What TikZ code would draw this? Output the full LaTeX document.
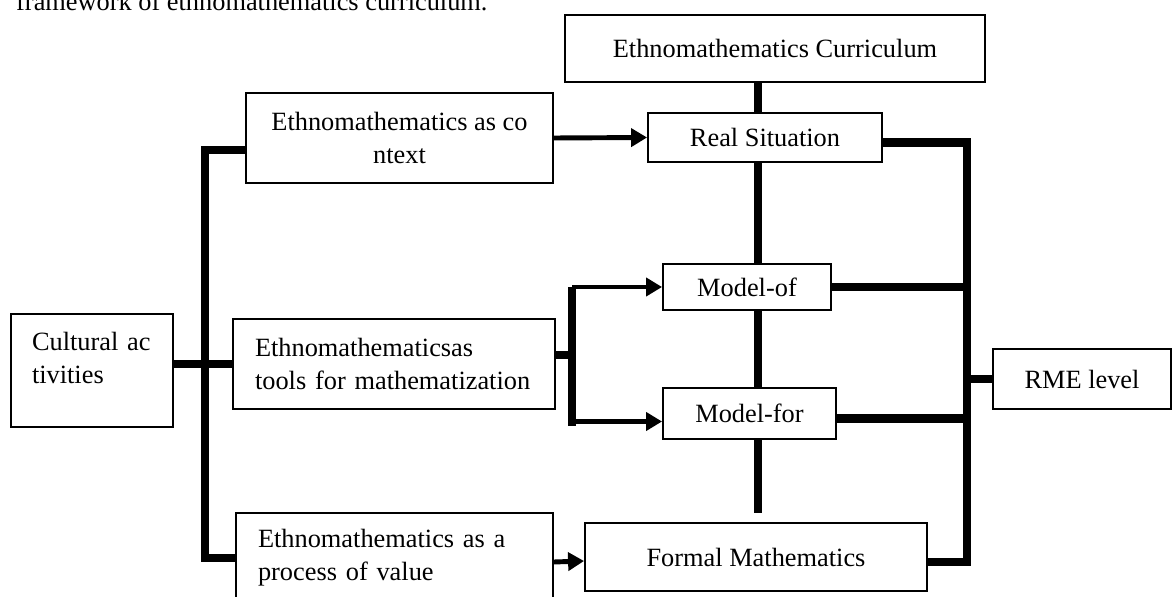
\documentclass[tikz,border=0pt]{standalone}
\usepackage{fontspec}
\setmainfont{Liberation Serif}
\usetikzlibrary{arrows.meta,calc}

\begin{document}
\begin{tikzpicture}[x=0.02cm, y=-0.02cm,
    txt/.style={font=\fontsize{15}{18.7}\selectfont},
    box/.style={txt, draw, line width=1.1pt, inner sep=0pt},
    bar/.style={line width=4.6pt},
    link/.style={line width=2.8pt, -{Triangle[length=0.32cm,width=0.36cm]}}]
  \useasboundingbox (0,0) rectangle (1173,597);

  \node[txt, anchor=base west] (cap) at (10,11) {framework of ethnomathematics curriculum.};

  % middle column
  \node[box, minimum width=8.4cm, minimum height=1.34cm] (curr) at (775,48.5) {Ethnomathematics Curriculum};
  \node[box, minimum width=4.68cm, minimum height=0.98cm] (real) at (765,137.5) {Real Situation};
  \node[box, minimum width=3.36cm, minimum height=0.92cm] (mof) at (747,287) {Model-of};
  \node[box, minimum width=3.46cm, minimum height=1.02cm] (mfor) at (749.5,413.5) {Model-for};
  \node[box, minimum width=6.84cm, minimum height=1.36cm] (formal) at (756,557) {Formal Mathematics};

  % left side
  \node[box, minimum width=6.14cm, minimum height=1.8cm, align=center] (ctx) at (399.5,138)
       {Ethnomathematics as co\\ntext};
  \node[box, inner xsep=0.44cm, text width=5.56cm, minimum height=1.8cm, align=left] (tools) at (394,364)
       {Ethnomathematicsas\\tools for mathematization};
  \node[box, inner xsep=0.44cm, text width=5.46cm, minimum height=1.8cm, align=left] (proc) at (394.5,558)
       {Ethnomathematics as a\\process of value};
  \node[box, inner xsep=0.42cm, text width=2.4cm, minimum height=2.26cm, align=left] (cult) at (92,370.5)
       {Cultural ac\\tivities\\[-4pt]\mbox{}};

  % right side
  \node[box, minimum width=3.56cm, minimum height=1.2cm] (rme) at (1082,379) {RME level};

  \coordinate (spine) at (758,0);
  \coordinate (lbus) at (205,0);
  \coordinate (fork) at (572,0);
  \coordinate (rbus) at (967,0);

  % spine
  \draw[bar] (curr.south -| spine) -- (real.north -| spine);
  \draw[bar] (real.south -| spine) -- (mof.north -| spine);
  \draw[bar] (mof.south -| spine) -- (mfor.north -| spine);
  \draw[bar, shorten >=5] (mfor.south -| spine) -- (formal.north -| spine);

  % left bus
  \draw[bar] ($(ctx.west)+(0,12)$) -| (proc.west -| lbus) -- (proc.west);
  \draw[bar] (cult.east |- tools) -- (tools.west);
  \draw[link] (ctx.east) -- (real.west);
  \draw[link] ($(proc.west -| proc.east)+(0,4)$) -- ($(formal.west)+(0,4)$);

  % fork to the models
  \draw[bar] ($(tools.east)+(0,-9)$) -- ($(tools.east -| fork)+(0,-9)$);
  \draw[bar] (fork |- mof.west) -- ($(fork |- mfor.west)+(0,13)$);
  \draw[link] (fork |- mof.west) -- (mof.west);
  \draw[link] ($(fork |- mfor.west)+(0,8)$) -- ($(mfor.west)+(0,8)$);

  % right bus
  \draw[bar] ($(real.east)+(0,5)$) -| ($(rbus |- formal.east)+(0,5)$) -- ($(formal.east)+(0,5)$);
  \draw[bar] (mof.east) -- (mof.east -| rbus);
  \draw[bar] ($(mfor.east)+(0,5)$) -- ($(mfor.east -| rbus)+(0,5)$);
  \draw[bar] (rme.west -| rbus) -- (rme.west);
\end{tikzpicture}
\end{document}
